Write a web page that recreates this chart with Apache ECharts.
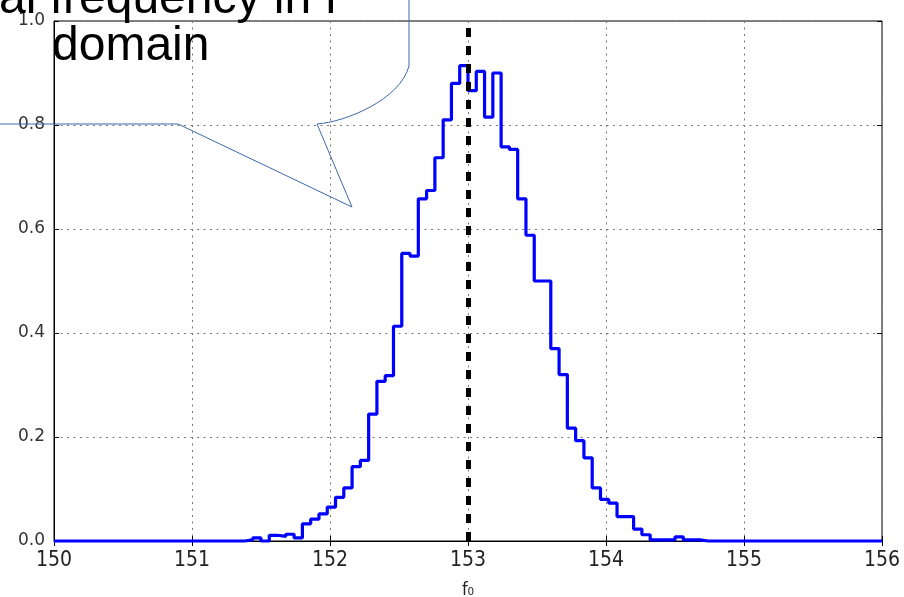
<!DOCTYPE html>
<html>
<head>
<meta charset="utf-8">
<script src="https://cdn.jsdelivr.net/npm/echarts@6/dist/echarts.min.js"></script>
<style>
  html, body { margin: 0; padding: 0; background: #fff; }
  #chart { width: 904px; height: 597px; }
</style>
</head>
<body>
<div id="chart"></div>
<script>
// Histogram of the estimated f0 (100 bins spanning 150..156), normalised counts
const binStart = 150;
const binWidth = 0.06;
const binCounts = [
  0, 0, 0, 0, 0, 0, 0, 0, 0, 0,
  0, 0, 0, 0, 0, 0, 0, 0, 0, 0,
  0, 0, 0, 0.002, 0.006, 0, 0.011, 0.009, 0.013, 0.006,
  0.033, 0.042, 0.052, 0.065, 0.084, 0.102, 0.143, 0.155, 0.244, 0.307,
  0.318, 0.413, 0.553, 0.548, 0.658, 0.674, 0.737, 0.81, 0.88, 0.914,
  0.866, 0.903, 0.815, 0.9, 0.758, 0.753, 0.658, 0.588, 0.5, 0.5,
  0.37, 0.32, 0.217, 0.193, 0.16, 0.102, 0.08, 0.073, 0.047, 0.047,
  0.023, 0.012, 0.002, 0.002, 0.002, 0.008, 0.002, 0.002, 0, 0,
  0, 0, 0, 0, 0, 0, 0, 0, 0, 0,
  0, 0, 0, 0, 0, 0, 0, 0, 0, 0
];
const trueF0 = 153;
const xTicks = [150, 151, 152, 153, 154, 155, 156];
const yTicks = [0.0, 0.2, 0.4, 0.6, 0.8, 1.0];
const calloutLines = ['al frequency in f', 'domain'];

// step outline: one point per bin left edge plus the closing edge
const stepData = binCounts.map((c, i) => [binStart + binWidth * i, c]);
stepData.push([binStart + binWidth * binCounts.length, binCounts[binCounts.length - 1]]);

const tickFont = "'DejaVu Sans Condensed', 'DejaVu Sans', sans-serif";
const gridDots = { color: '#777', width: 1, type: [2, 4.5] };

const chart = echarts.init(document.getElementById('chart'), null, { renderer: 'canvas' });

chart.setOption({
  animation: false,
  backgroundColor: '#fff',
  grid: {
    left: 54, right: 22, top: 21, bottom: 56,
    containLabel: false, outerBoundsMode: 'none',
    show: true, borderColor: '#000', borderWidth: 1, backgroundColor: 'transparent'
  },
  xAxis: [{
    type: 'value',
    min: xTicks[0], max: xTicks[xTicks.length - 1], interval: 1,
    name: 'f\u2080', nameLocation: 'middle', nameGap: 40,
    nameTextStyle: { fontFamily: tickFont, fontSize: 18, color: '#222' },
    axisLine: { show: true, lineStyle: { color: '#000', width: 1 } },
    axisTick: { show: true, inside: true, length: 5, lineStyle: { color: '#000' } },
    axisLabel: { fontFamily: tickFont, fontSize: 21, color: '#222', margin: 9,
                 formatter: v => String(v) },
    splitLine: { show: true, lineStyle: gridDots }
  }, {
    type: 'value', position: 'top',
    min: xTicks[0], max: xTicks[xTicks.length - 1], interval: 1,
    axisLine: { show: false },
    axisTick: { show: true, inside: true, length: 5, lineStyle: { color: '#000' } },
    axisLabel: { show: false }, splitLine: { show: false }
  }],
  yAxis: [{
    type: 'value',
    min: yTicks[0], max: yTicks[yTicks.length - 1], interval: 0.2,
    axisLine: { show: true, lineStyle: { color: '#000', width: 1 } },
    axisTick: { show: true, inside: true, length: 5, lineStyle: { color: '#000' } },
    axisLabel: { fontFamily: "'DejaVu Sans', sans-serif", fontSize: 17, color: '#333', margin: 9,
                 formatter: v => v.toFixed(1) },
    splitLine: { show: true, lineStyle: gridDots }
  }, {
    type: 'value', position: 'right',
    min: yTicks[0], max: yTicks[yTicks.length - 1], interval: 0.2,
    axisLine: { show: false },
    axisTick: { show: true, inside: true, length: 5, lineStyle: { color: '#000' } },
    axisLabel: { show: false }, splitLine: { show: false }
  }],
  series: [{
    type: 'line',
    step: 'end',
    data: stepData,
    symbol: 'none',
    clip: false,
    lineStyle: { color: '#0000ff', width: 3.2 },
    z: 3,
    markLine: {
      silent: true,
      symbol: ['none', 'none'],
      label: { show: false },
      lineStyle: { color: '#000', width: 5, type: [9, 9] },
      data: [{ xAxis: trueF0 }],
      z: 5
    }
  }],
  graphic: [
    // speech-bubble callout outline
    {
      type: 'polyline', z: 20, silent: true,
      shape: { points: [[-5, 124], [178, 124], [352, 207], [317, 124]] },
      style: { stroke: '#3c68a8', lineWidth: 1, fill: null }
    },
    {
      type: 'bezierCurve', z: 20, silent: true,
      shape: { x1: 317, y1: 124, cpx1: 345, cpy1: 122, cpx2: 400, cpy2: 100, x2: 409, y2: 66 },
      style: { stroke: '#3c68a8', lineWidth: 1, fill: null }
    },
    {
      type: 'line', z: 20, silent: true,
      shape: { x1: 409, y1: 66, x2: 409, y2: -5 },
      style: { stroke: '#3c68a8', lineWidth: 1 }
    },
    {
      type: 'text', z: 21, silent: true, x: -1, y: 0,
      style: { text: calloutLines[0], font: "48px 'Liberation Sans', Arial, sans-serif",
               fill: '#000', verticalAlign: 'middle', align: 'left' }
    },
    {
      type: 'text', z: 21, silent: true, x: 52, y: 47,
      style: { text: calloutLines[1], font: "48px 'Liberation Sans', Arial, sans-serif",
               fill: '#000', verticalAlign: 'middle', align: 'left' }
    }
  ]
});
</script>
</body>
</html>
